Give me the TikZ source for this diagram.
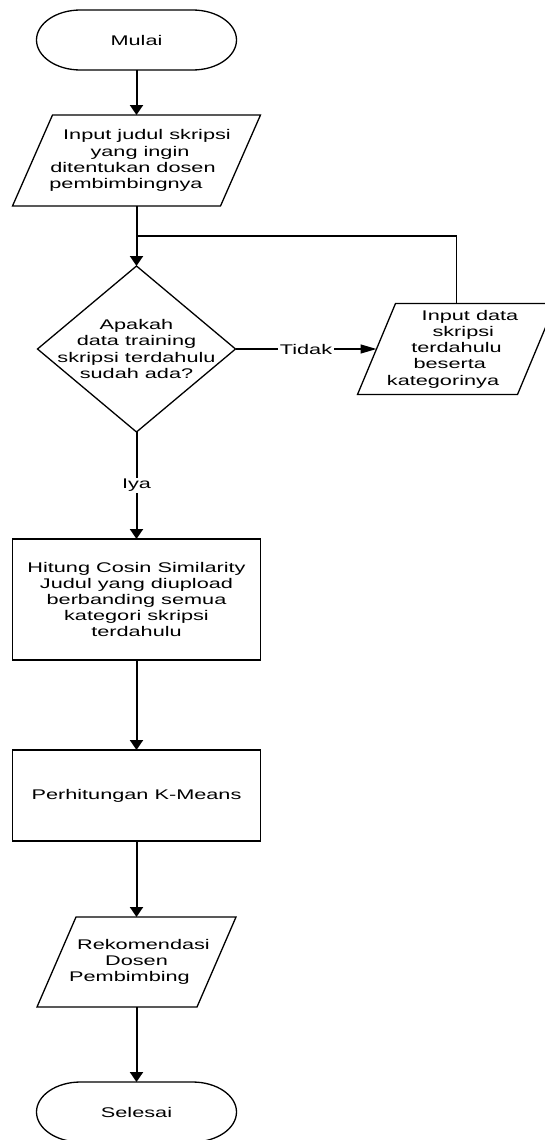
\documentclass[tikz,border=0pt]{standalone}
\usepackage{fontspec}
\setmainfont{Liberation Sans}[FakeStretch=1.55]
\usepackage{tikz}
\usetikzlibrary{positioning, calc, arrows.meta}

\tikzset{
	txt/.style={rectangle, align=center, inner sep=0pt, outer sep=0pt, font=\fontsize{14pt}{16.2pt}\selectfont},
	term/.style={txt, minimum width=200pt, minimum height=60pt},
	io/.style={txt, minimum width=#1, minimum height=91pt},
	proc/.style={txt, draw, line width=1.3pt, minimum width=248pt},
	decision/.style={txt, minimum width=198pt, minimum height=166pt},
	outline/.style={line width=1.3pt},
	arrow/.style={line width=2pt, -{Triangle[length=10pt, width=13pt]}},
	harrow/.style={line width=1.3pt, -{Triangle[length=16pt, width=9pt]}},
	lbl/.style={fill=white, inner sep=1.5pt, font=\fontsize{14pt}{16.2pt}\selectfont}
}

% start/end outline with flat ends
\newcommand{\termline}[1]{%
	\draw[outline] ([xshift=44pt]#1.north west) -- ([xshift=-44pt]#1.north east)
		arc[start angle=90, end angle=-90, x radius=44pt, y radius=30pt]
		-- ([xshift=44pt]#1.south west)
		arc[start angle=270, end angle=90, x radius=44pt, y radius=30pt] -- cycle;}

% input/output outline, #2 = half of the slant
\newcommand{\ioline}[2]{%
	\draw[outline] ([xshift=-#2]#1.south west) -- ([xshift=#2]#1.north west)
		-- ([xshift=#2]#1.north east) -- ([xshift=-#2]#1.south east) -- cycle;}

\newcommand{\lsh}[1]{\hspace*{#1}}

\begin{document}
\begin{tikzpicture}
		
		\useasboundingbox (0,0) rectangle (545pt,-1140pt);
		
		\node[term] (mulai) at (136.5pt,-40pt) {Mulai};
		\node[io=208pt, below=45pt of mulai] (in1) {\lsh{21pt}Input judul skripsi\\\lsh{7pt}yang ingin\\\lsh{-7pt}ditentukan dosen\\\lsh{-21pt}pembimbingnya};
		\node[decision, below=60pt of in1] (cek) {Apakah\\data training\\skripsi terdahulu\\sudah ada?};
		\node[io=160pt, right=141pt of cek] (in2) {\lsh{27pt}Input data\\\lsh{13.5pt}skripsi\\terdahulu\\\lsh{-13.5pt}beserta\\\lsh{-27pt}kategorinya};
		\node[proc, minimum height=121pt, below=107pt of cek] (hitung) {Hitung Cosin Similarity\\Judul yang diupload\\berbanding semua\\kategori skripsi\\terdahulu};
		\node[proc, minimum height=91pt, below=90pt of hitung] (kmeans) {Perhitungan K-Means};
		\node[io=160pt, minimum height=90pt, below=76pt of kmeans] (rekom) {\lsh{14pt}Rekomendasi\\Dosen\\\lsh{-14pt}Pembimbing};
		\node[term, below=75pt of rekom] (selesai) {Selesai};
		
		\termline{mulai}
		\termline{selesai}
		\ioline{in1}{20pt}
		\ioline{in2}{19pt}
		\ioline{rekom}{19.5pt}
		\draw[outline] (cek.north) -- (cek.east) -- (cek.south) -- (cek.west) -- cycle;
		
		\coordinate (join) at ($(in1.south)!0.5!(cek.north)$);
		
		\draw[arrow] (mulai) -- (in1);
		\draw[arrow] (in1) -- (cek);
		\draw[line width=1.5pt] (in2.north) |- (join);
		\draw[harrow] (cek.east) -- node[lbl] {Tidak} (in2.west);
		\draw[arrow] (cek) -- node[lbl] {Iya} (hitung);
		\draw[arrow] (hitung) -- (kmeans);
		\draw[arrow] (kmeans) -- (rekom);
		\draw[arrow] (rekom) -- (selesai);
		
\end{tikzpicture}
\end{document}
